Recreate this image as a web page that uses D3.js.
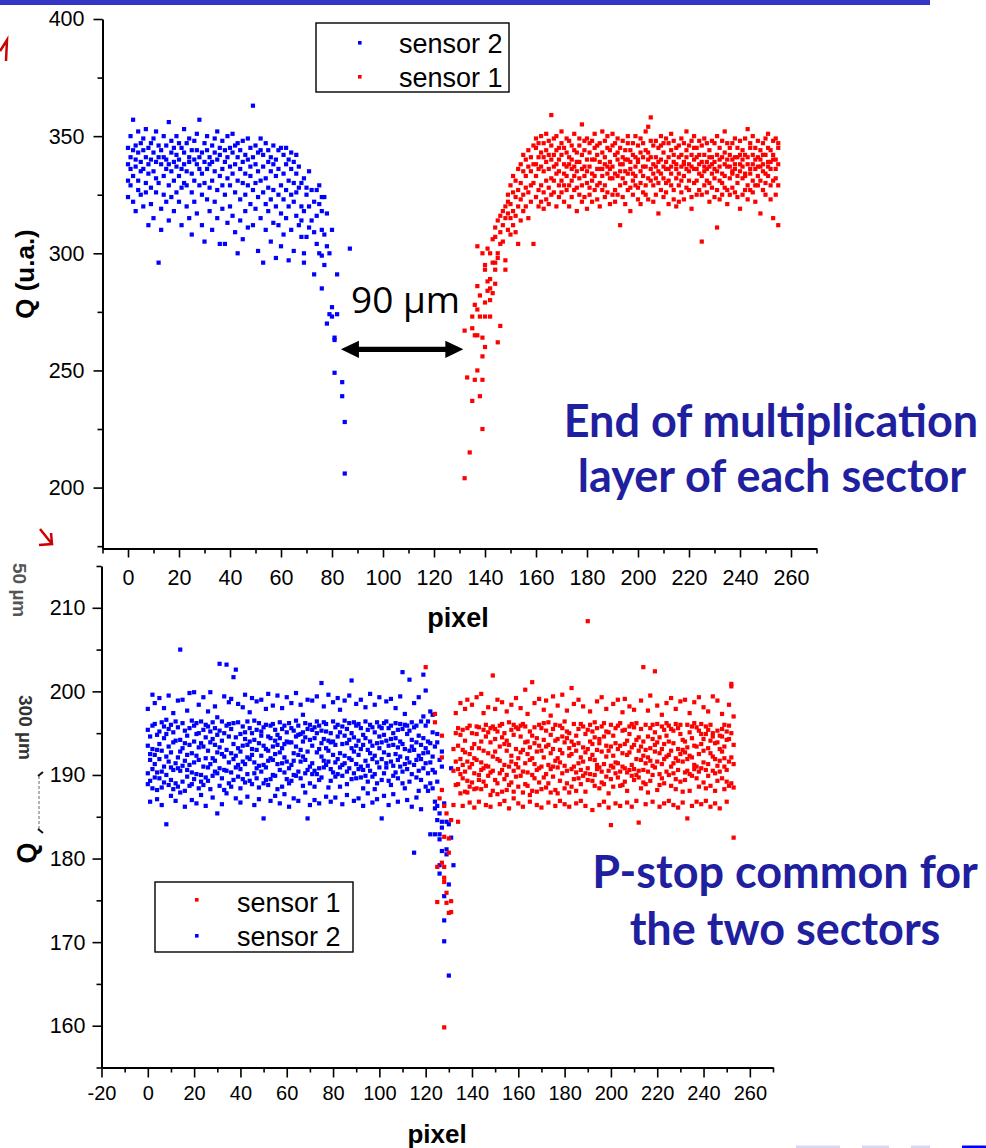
<!DOCTYPE html>
<html><head><meta charset="utf-8">
<script src="https://cdn.jsdelivr.net/npm/d3@7"></script>
<style>
html,body{margin:0;padding:0;background:#fff;}
svg{display:block;}
</style></head><body>
<svg id="fig" width="986" height="1148"></svg>
<script>
// ---------- Upper panel: charge vs pixel, one reading group per pixel ----------
const topSensor2Start = 0;
const topSensor2 = [
[324,338,345,331],[341,329,350,336],[357,333,322,344],[337,346,318,340],[352,331,343,327],
[339,347,325,335],[344,320,336,349],[330,341,353,326],[338,312,345,334],[347,328,340,321],
[335,343,315,349],[326,339,352,332],[296,341,330,346],[338,319,344,310],[350,333,325,341],
[340,346,322,336],[356,329,338,314],[343,335,348,324],[331,345,318,339],[337,326,342,350],
[322,340,347,333],[345,312,336,328],[353,338,330,343],[329,347,320,335],[341,315,339,349],
[334,344,326,308],[348,331,340,322],[338,351,317,344],[357,336,329,341],[325,343,334,312],
[339,305,347,330],[344,323,336,350],[318,338,341,328],[346,331,310,339],[335,349,322,343],
[327,340,352,315],[342,304,333,345],[336,348,319,329],[304,339,344,325],[350,332,313,341],
[329,345,337,320],[343,316,351,334],[338,326,346,309],[300,341,331,347],[336,323,344,314],
[348,330,339,306],[325,342,334,318],[340,311,349,329],[333,345,321,337],[363,327,341,312],
[338,319,346,330],[324,343,301,335],[344,331,315,349],[296,337,326,342],[332,347,310,321],
[339,318,344,328],[305,335,341,323],[346,327,313,338],[320,340,298,333],[336,312,344,325],
[329,345,317,303],[342,323,334,308],[315,338,327,345],[297,331,340,320],[336,310,325,343],
[322,339,301,330],[334,316,342,326],
[328,312,337],[330,320,314,307],[300,296,332,318],[328,307,325],[320,335,311],
[314,327],[309,291,322],[327,304,316],[321,300,329],[310,299,285,318,324],
[324,295,308],[303,270,317],[300,274],[310,277,273],[264,263,249],
[291,274],[],[245,239],[228,206],[],[302]
];

const topSensor1Start = 132;
const topSensor1 = [
[204,267],[247],[215],[237,268,273],[246,265,278],
[250,265,276,286,303],[239,273,282],[225,246,256,264,300],[260,273,279,293,295],[288,302,284],
[273,280,285,289,300],[283,296,306],[287,293,296,307,311],[262,298,300,314],[269,304,309,316],
[305,312,318],[293,297,315,320],[310,317,322,325],
[308,321,329,315],[318,312,326,333],[324,316,331,309],[304,327,320,336],[330,314,338,323],
[325,335,318,342],[333,320,340,328],[337,326,344,315],[329,341,322,335],[304,338,330,346],
[333,345,324,338,349],[327,336,347,320,341],[343,329,337,322,350],[335,341,326,347,319],[339,323,344,331,351],
[328,348,336,342,321],[359,332,340,325,346],[337,326,349,331,342],[344,334,320,338,350],[324,345,335,329,340],
[352,331,342,326,347],[338,322,345,334,329],[333,349,327,343,337],[341,329,338,320,348],[336,346,324,340,331],
[327,337,351,333,344],[318,343,335,328,339],[346,325,339,349,332],[355,336,329,342,322],[337,344,333,324,348],
[330,340,349,335,319],[343,328,337,347,325],[334,348,322,340,331],[340,333,345,327,351],[323,342,336,346,329],
[347,330,339,320,336],[336,352,327,343,333],[329,338,348,324,341],[345,334,326,337,350],[339,321,344,332,336],
[332,346,337,351,325],[342,327,334,347,322],[325,340,349,333,343],[312,338,329,345,335],[348,332,341,324,338],
[335,344,321,340,330],[340,327,347,334,350],[328,344,336,318,339],[347,334,325,342,331],[333,341,350,329,337],
[339,323,340,346,328],[343,335,330,349,321],[326,347,337,333,341],[337,329,344,325,352],[354,340,332,343,323],
[358,331,341,336,348],[334,346,322,338,329],[341,325,348,332,337],[330,339,335,345,317],[346,334,327,340,350],
[324,343,337,332,347],[339,330,349,326,336],[336,347,331,341,321],[329,337,344,351,334],[348,327,339,323,342],
[338,345,332,336,320],[322,334,341,346,329],[342,349,326,337,331],[333,339,347,323,338],[341,328,336,344,352],
[327,346,338,331,335],[337,324,342,348,319],[345,336,330,340,350],[331,341,325,336,345],[338,348,334,327,342],
[305,333,339,346,325],[342,337,329,349,335],[336,326,347,339,331],[330,344,337,322,341],[348,334,341,328,338],
[324,339,332,347,336],[311,342,335,327,350],[340,331,345,337,323],[334,348,325,341,330],[343,328,338,333,352],
[327,337,347,340,321],[337,345,332,325,342],[347,335,340,328,334],[326,341,349,336,338],[341,333,324,345,330],
[335,342,338,319,348],[332,325,344,337,340],[342,349,334,327,333],[353,338,329,341,323],[334,345,336,347,327],
[338,326,342,331,350],[345,336,322,340,329],[329,341,348,333,337],[337,331,340,344,317],[347,338,327,335,342],
[325,342,349,334,330],[339,333,337,345,351],[336,323,344,329,339],[342,348,331,340,315],[332,340,349,325,336],
[312,338,345,329,347]
];

// ---------- Lower panel ----------
const bottomSensor2Start = 0;
const bottomSensor2 = [
[190.2,193.5,188.9,195.4,197.9],[191.8,189.3,194.6,192.5,186.8],[199.6,190.7,193.1,195.9,188.4],[192.4,196.1,189.7,191.3,198.6],[194.8,190.3,188.2,193.0,187.1],
[189.6,195.2,191.9,193.7,199.2],[192.9,188.5,196.3,190.4,186.4],[191.0,194.4,189.1,195.8,198.0],[184.1,192.2,190.0,194.9,196.6],[193.4,188.8,195.5,191.6,199.5],
[190.9,196.0,192.7,189.4,187.5],[188.3,193.9,190.6,195.1,197.4],[194.1,191.4,189.0,196.4,186.9],[192.1,195.7,188.6,190.8,198.9],[205.0,190.5,194.2,192.8,187.9],
[189.2,193.2,196.2,191.1,199.0],[193.8,188.1,191.7,195.3,186.2],[190.6,194.7,189.8,192.4,197.7],[195.6,191.2,188.7,193.6,199.8],[188.9,192.6,196.5,190.3,187.0],
[199.9,191.5,189.5,194.0,195.9],[190.1,194.9,192.3,196.2,186.6],[193.3,188.4,195.0,191.8,198.4],[196.4,190.0,193.8,189.2,187.6],[191.0,195.4,188.8,193.4,199.3],
[194.5,189.7,192.0,196.0,186.3],[189.3,192.9,195.8,190.9,197.6],[195.2,191.3,188.3,193.9,199.9],[192.0,194.3,189.9,196.3,187.3],[190.4,193.6,195.6,191.7,198.2],
[185.4,192.7,194.8,190.2,196.9],[203.3,190.8,193.3,188.7,195.3],[192.5,196.4,189.6,194.1,186.5],[190.6,195.0,192.2,188.2,199.4],[203.2,193.0,190.5,195.9,187.8],
[191.5,194.6,196.1,189.0,198.7],[195.5,190.3,192.6,188.6,199.1],[201.7,193.7,189.4,191.9,196.2],[202.6,190.9,194.5,192.3,187.2],[193.2,196.3,189.8,191.2,198.5],
[190.7,194.9,192.8,188.4,186.7],[195.8,191.6,193.5,189.5,198.1],[189.1,195.1,191.3,194.3,199.6],[193.6,190.1,196.4,192.1,187.4],[191.9,195.6,189.3,194.0,197.5],
[195.0,192.4,188.9,193.1,199.2],[190.2,194.2,191.5,196.5,186.4],[193.0,189.6,195.4,190.8,198.8],[196.2,191.1,193.8,188.5,187.1],[192.3,195.2,190.4,194.7,199.0],
[184.8,193.5,191.2,195.7,189.0],[190.9,196.0,193.1,189.4,197.9],[194.6,191.7,188.8,192.9,199.7],[189.5,194.4,192.0,195.9,186.9],[193.4,190.0,196.1,191.8,198.3],
[195.4,192.5,189.9,194.1,187.5],[191.3,194.8,193.6,188.3,199.5],[194.4,190.6,196.3,192.7,186.6],[188.6,193.2,191.4,195.5,198.0],[192.1,195.9,190.3,193.7,187.7],
[195.1,189.5,194.0,191.6,199.3],[190.8,193.9,196.2,189.0,186.2],[193.9,191.2,189.3,195.6,198.6],[192.6,195.3,191.7,190.0,187.2],[189.9,193.4,196.5,194.6,199.8],
[195.9,190.4,192.4,194.8,186.9],[191.6,194.9,193.0,189.6,198.4],[194.0,188.7,195.1,192.2,197.2],[190.2,196.2,191.8,194.5,187.9],[184.8,192.8,195.5,190.6,199.0],
[194.2,191.0,189.0,196.0,186.4],[190.1,195.4,193.5,191.4,198.9],[195.7,190.5,194.4,188.6,187.0],[192.7,196.4,190.1,195.0,199.4],[190.8,193.1,195.9,189.4,186.6],
[201.0,192.2,189.7,195.3,193.8],[194.3,190.9,196.3,191.7,198.2],[191.2,195.2,193.2,196.1,187.4],[188.5,194.1,191.6,192.9,199.6],[195.0,190.7,193.9,189.3,186.8],
[192.4,196.4,190.3,194.0,198.7],[189.8,193.6,195.7,191.5,187.3],[196.0,191.9,194.6,190.1,199.2],[190.9,195.1,188.6,192.6,197.8],[193.7,189.9,195.8,191.2,186.5],
[191.4,194.7,192.3,196.5,198.9],[195.5,190.4,193.8,188.9,187.6],[192.0,196.2,190.8,194.2,199.5],[201.3,191.8,189.5,195.0,193.2],[190.2,194.5,192.8,196.3,186.9],
[193.5,189.6,195.9,191.3,198.5],[196.1,192.4,190.7,194.1,187.2],[189.7,195.6,193.1,191.0,199.0],[194.8,190.6,188.4,193.6,186.3],[191.7,196.4,194.4,189.9,198.1],
[193.0,191.1,195.4,189.2,187.8],[190.5,194.0,192.6,196.0,199.7],[195.7,189.8,191.9,193.5,186.7],[192.3,195.1,190.1,188.3,198.4],[189.0,193.8,196.3,191.5,187.1],
[194.6,190.9,193.2,195.8,199.3],[184.8,191.9,195.6,189.4,193.9],[196.2,192.7,190.2,194.8,187.5],[190.9,194.1,196.4,191.4,198.8],[193.5,189.3,192.4,195.6,186.4],
[195.9,191.6,194.3,188.8,199.1],[189.9,195.0,191.1,193.6,187.7],[192.5,190.3,196.2,194.4,198.0],[195.4,193.3,189.6,191.8,186.8],[191.0,196.1,194.0,192.2,199.4],
[202.3,190.4,193.7,195.5,189.0],[193.1,188.4,196.0,191.3,197.3],[190.7,194.9,192.0,195.9,187.0],[201.4,192.9,189.2,195.3,191.5],[194.2,190.1,196.3,193.4,186.2],
[180.7,193.0,191.2,195.7,198.6],[191.8,195.9,189.7,193.9,187.3],[199.3,192.3,194.7,190.5,188.1],[193.6,189.4,196.4,191.9,185.9],[202.0,190.8,194.4,192.6,197.0],
[195.9,191.4,188.6,193.2,200.1],[194.0,190.2,196.4,188.1,192.7],[182.9,191.5,193.8,189.0,197.6],[197.2,188.4,192.2,195.1,190.6],[186.8,186.0,182.9,190.3,193.4],
[194.9,193.9,186.3,184.6,189.2],[191.8,185.4,182.9,182.3,179.2,178.2],[192.8,191.0,184.4,183.7,180.9],[175.5,172.6,170.1,186.6],[184.4,181.1,180.5],
[176.9,166.0,184.1],[190.8,182.5],[179.2]
];

const bottomSensor1Start = 120;
const bottomSensor1 = [
[202.9],[],[],[],[197.3,196.3],
[179.0,174.8],[187.2],[194.7,192.1,188.2,179.5],[186.3,182.6,179.0,177.7,177.2,159.8],[185.4,175.9,174.7],
[182.4,180.7,173.5],[184.6,174.9,173.6],[190.5,186.4,193.1],[195.0,188.8,191.6,197.4],
[184.4,190.7,193.5,188.9,195.6],[191.9,187.8,194.8,190.1,198.6],[189.6,193.0,195.4,191.2,186.3],[194.1,190.4,188.0,192.7,197.9],[187.9,195.6,191.6,189.3,199.0],
[192.5,188.6,195.9,190.9,186.7],[195.0,191.3,189.1,193.2,198.4],[190.2,193.7,188.3,192.0,186.1],[188.4,194.9,191.8,195.8,199.3],[193.2,190.0,195.7,189.4,186.8],
[199.7,191.5,188.3,194.0,190.6],[190.8,195.4,192.9,189.2,197.4],[194.6,188.7,191.1,196.0,186.4],[191.0,195.1,189.9,192.6,198.1],[187.6,193.9,195.6,190.3,186.2],
[201.9,190.5,192.2,188.1,195.8],[192.8,195.5,189.4,194.3,197.9],[189.0,191.9,195.2,187.7,199.0],[195.9,190.2,193.4,191.7,186.5],[190.6,194.5,188.0,196.1,198.7],
[193.7,189.5,191.2,195.0,186.9],[188.2,192.9,194.1,190.0,197.6],[196.3,191.0,188.8,193.6,186.0],[191.6,195.4,192.3,189.1,198.4],[194.8,188.0,190.5,196.0,187.2],
[189.8,193.1,195.7,191.3,199.2],[192.0,190.9,195.5,188.6,186.6],[195.9,192.7,189.9,194.6,198.0],[190.4,196.1,193.0,187.9,186.2],[193.9,188.9,191.4,195.8,200.2],
[188.7,194.0,192.5,190.3,197.3],[195.2,191.8,187.6,193.3,186.8],[201.1,190.0,194.7,192.0,188.1],[191.3,195.7,189.6,193.8,198.6],[194.4,190.6,192.8,188.0,186.4],
[189.1,193.5,196.0,190.8,199.1],[192.9,188.3,191.0,195.6,186.1],[196.2,192.1,194.2,189.7,197.8],[190.1,195.3,188.5,193.4,198.9],[193.6,191.2,196.3,189.0,186.7],
[187.9,194.8,190.7,192.6,197.1],[195.5,189.8,193.1,191.0,199.4],[191.7,196.0,188.2,194.1,186.3],[194.3,190.9,192.0,187.8,198.3],[189.3,193.0,195.9,191.5,186.9],
[192.6,195.6,190.2,194.6,199.6],[196.4,191.1,193.9,188.4,186.5],[190.5,194.4,189.0,195.2,197.7],[193.2,187.9,195.0,192.3,186.2],[200.4,192.5,190.7,194.0,188.6],
[191.0,196.1,193.6,189.5,198.5],[194.7,190.3,188.1,192.9,186.6],[189.6,193.8,191.4,195.5,199.0],[192.1,188.9,196.1,190.6,186.9],[195.8,191.6,193.3,189.9,198.2],
[190.2,194.9,192.7,188.0,186.3],[208.4,193.1,189.4,195.4,190.8],[191.9,196.0,194.0,190.1,197.6],[185.8,192.4,195.2,189.3,193.7],[194.5,190.0,191.8,196.3,188.7],
[190.7,195.6,193.0,191.2,198.8],[193.8,188.4,190.9,194.3,186.4],[189.1,192.8,195.8,190.4,199.3],[196.2,191.3,194.6,188.9,186.8],[192.2,195.2,189.8,193.5,197.9],
[195.1,190.5,192.9,187.8,186.1],[184.0,193.4,191.1,196.0,189.5],[190.9,194.7,188.6,192.3,198.5],[195.6,191.5,193.8,190.2,186.6],[191.4,189.7,195.9,193.1,199.0],
[193.5,196.2,190.4,188.7,186.3],[188.8,192.6,191.0,195.3,197.5],[195.4,190.8,193.7,189.2,199.1],[190.3,194.1,188.1,192.4,186.7],[192.7,195.8,190.6,194.9,198.2],
[196.1,191.2,193.3,189.9,186.2],[189.4,193.6,195.7,190.7,197.8],[194.2,190.0,191.9,196.2,186.9],[184.3,192.9,189.7,194.5,190.5],[191.8,195.5,193.4,188.4,198.9],
[202.9,190.6,192.3,194.0,189.1],[193.0,188.9,196.0,191.4,186.5],[190.4,194.6,192.1,187.9,197.7],[195.6,191.7,189.3,193.2,199.5],[191.1,196.0,194.3,190.0,186.8],
[202.4,192.8,190.9,195.1,193.6],[188.2,193.9,191.6,196.1,198.3],[194.5,190.1,188.8,192.6,186.2],[191.3,195.8,193.1,189.6,197.2],[193.7,189.0,195.4,191.9,186.6],
[196.2,192.2,190.4,194.7,198.6],[190.0,194.0,195.9,192.4,186.9],[192.9,188.7,191.0,195.5,199.2],[195.3,191.4,193.8,190.2,186.4],[189.5,196.1,192.0,188.3,197.9],
[193.1,190.6,195.6,191.7,186.1],[196.0,192.5,189.2,194.9,198.8],[191.6,194.2,188.0,193.0,186.7],[194.0,190.3,192.7,189.4,199.0],[184.8,191.9,196.0,193.3,190.5],
[192.3,195.1,190.1,188.1,197.4],[195.8,189.9,194.4,192.1,186.3],[190.7,193.5,191.2,196.2,198.7],[193.4,191.0,195.7,189.6,186.8],[188.6,195.3,192.5,190.4,199.3],
[196.1,190.8,193.7,194.9,186.5],[191.5,194.3,189.1,192.9,198.1],[194.9,188.4,195.8,190.6,186.9],[189.9,193.2,191.3,195.4,197.6],[192.6,196.0,194.1,188.7,186.2],
[195.0,190.5,192.2,194.6,199.4],[190.2,193.8,188.1,191.9,186.6],[193.9,191.1,195.3,189.3,198.9],[191.7,194.7,190.4,193.1,186.0],[195.5,189.6,192.8,194.6,197.3],
[192.0,193.4,196.0,191.0,188.3],[189.2,195.2,190.6,194.2,186.8],[194.3,191.6,188.7,195.9,198.4],[200.9,200.6,192.1,195.0,189.0],[182.5,191.3,193.6,188.5,197.0]
];

// ---------- Axis ticks ----------
const topXMajor = d3.range(0, 261, 20);
const topXMinor = d3.range(-10, 271, 20);
const topYMajor = [200, 250, 300, 350, 400];
const topYMinor = [175, 225, 275, 325, 375];
const botXMajor = d3.range(-20, 261, 20);
const botXMinor = d3.range(-10, 271, 20);
const botYMajor = [160, 170, 180, 190, 200, 210];
const botYMinor = [155, 165, 175, 185, 195, 205, 215];

const legendTop = [{name: "sensor 2", color: "#0000ff"}, {name: "sensor 1", color: "#ff0000"}];
const legendBottom = [{name: "sensor 1", color: "#ff0000"}, {name: "sensor 2", color: "#0000ff"}];

// ---------- Drawing ----------
const svg = d3.select("#fig");
const sans = "'Liberation Sans', Arial, sans-serif";
const BLUE = "#0000ff", RED = "#ff0000";

function toPoints(groups, start) {
  const pts = [];
  groups.forEach((vals, i) => vals.forEach(v => pts.push([start + i, v])));
  return pts;
}

function drawAxis(g, scale, side, majors, minors, majLen, minLen, pad, fs) {
  const gen = side === "left" ? d3.axisLeft : d3.axisBottom;
  const a1 = g.append("g").call(gen(scale).tickValues(minors).tickSize(minLen).tickSizeOuter(0).tickFormat(""));
  a1.select(".domain").remove();
  const a2 = g.append("g").call(gen(scale).tickValues(majors).tickSize(majLen).tickSizeOuter(0)
    .tickPadding(pad).tickFormat(d => String(d)));
  g.selectAll(".domain").attr("stroke", "#000").attr("stroke-width", 2);
  g.selectAll(".tick line").attr("stroke", "#000").attr("stroke-width", 1.6);
  a2.selectAll("text").attr("font-family", sans).attr("font-size", fs).attr("fill", "#000");
}

function drawPoints(g, pts, x, y, color, s) {
  g.append("g").selectAll("rect").data(pts).join("rect")
    .attr("x", d => x(d[0]) - s / 2).attr("y", d => y(d[1]) - s / 2)
    .attr("width", s).attr("height", s).attr("fill", color);
}

// header band
svg.append("rect").attr("x", 0).attr("y", 0).attr("width", 930).attr("height", 5).attr("fill", "#3636c6");

// upper panel
const xTop = d3.scaleLinear().domain([-10, 270]).range([102.5, 816.5]);
const yTop = d3.scaleLinear().domain([174, 400]).range([548.5, 19]);
const gTop = svg.append("g");
drawPoints(gTop, toPoints(topSensor2, topSensor2Start), xTop, yTop, BLUE, 4.2);
drawPoints(gTop, toPoints(topSensor1, topSensor1Start), xTop, yTop, RED, 4.2);
drawAxis(gTop.append("g").attr("transform", `translate(0,${yTop.range()[0]})`), xTop, "bottom", topXMajor, topXMinor, 9, 5, 12, 21.5);
drawAxis(gTop.append("g").attr("transform", `translate(${xTop.range()[0]},0)`), yTop, "left", topYMajor, topYMinor, 9, 5, 9, 21.5);

gTop.append("text").attr("transform", "translate(34,274) rotate(-90)").attr("text-anchor", "middle")
  .attr("font-family", sans).attr("font-weight", "bold").attr("font-size", 26).text("Q (u.a.)");
gTop.append("text").attr("x", 458).attr("y", 627).attr("text-anchor", "middle")
  .attr("font-family", sans).attr("font-weight", "bold").attr("font-size", 27).text("pixel");

// legend (upper)
const lgT = gTop.append("g");
lgT.append("rect").attr("x", 316).attr("y", 23).attr("width", 193).attr("height", 69)
  .attr("fill", "#fff").attr("stroke", "#000").attr("stroke-width", 1.4);
legendTop.forEach((d, i) => {
  lgT.append("rect").attr("x", 358).attr("y", 41 + i * 34).attr("width", 3.6).attr("height", 3.6).attr("fill", d.color);
  lgT.append("text").attr("x", 399).attr("y", 53 + i * 34).attr("font-family", sans).attr("font-size", 27).text(d.name);
});

// gap annotation between sectors
const gapFrom = 83.5, gapTo = 131.5, gapQ = 259;
const ax0 = xTop(gapFrom), ax1 = xTop(gapTo), ay = yTop(gapQ);
gTop.append("path").attr("fill", "#000").attr("d",
  `M${ax0},${ay} L${ax0 + 18},${ay - 8.7} L${ax0 + 18},${ay - 2.6} L${ax1 - 18},${ay - 2.6} L${ax1 - 18},${ay - 8.7} ` +
  `L${ax1},${ay} L${ax1 - 18},${ay + 8.7} L${ax1 - 18},${ay + 2.6} L${ax0 + 18},${ay + 2.6} L${ax0 + 18},${ay + 8.7} Z`);
gTop.append("text").attr("x", 351).attr("y", 313).attr("font-family", "'Open Sans', sans-serif")
  .attr("font-size", 37).attr("fill", "#000").text("90 µm");

// lower panel
const xBot = d3.scaleLinear().domain([-20, 270]).range([101.5, 773]);
const yBot = d3.scaleLinear().domain([155, 215]).range([1067.5, 566]);
const gBot = svg.append("g");
drawPoints(gBot, toPoints(bottomSensor2, bottomSensor2Start), xBot, yBot, BLUE, 4.2);
drawPoints(gBot, toPoints(bottomSensor1, bottomSensor1Start), xBot, yBot, RED, 4.2);
drawAxis(gBot.append("g").attr("transform", `translate(0,${yBot.range()[0]})`), xBot, "bottom", botXMajor, botXMinor, 10, 5, 8, 20);
drawAxis(gBot.append("g").attr("transform", `translate(${xBot.range()[0]},0)`), yBot, "left", botYMajor, botYMinor, 9, 5, 7, 21.5);

gBot.append("text").attr("transform", "translate(36,853) rotate(-90)").attr("text-anchor", "middle")
  .attr("font-family", sans).attr("font-weight", "bold").attr("font-size", 27).text("Q");
gBot.append("text").attr("x", 437).attr("y", 1143).attr("text-anchor", "middle")
  .attr("font-family", sans).attr("font-weight", "bold").attr("font-size", 26).text("pixel");

const lgB = gBot.append("g");
lgB.append("rect").attr("x", 155).attr("y", 882).attr("width", 198).attr("height", 70)
  .attr("fill", "#fff").attr("stroke", "#000").attr("stroke-width", 1.4);
legendBottom.forEach((d, i) => {
  lgB.append("rect").attr("x", 195).attr("y", 898 + i * 36).attr("width", 3.6).attr("height", 3.6).attr("fill", d.color);
  lgB.append("text").attr("x", 237).attr("y", 912 + i * 34).attr("font-family", sans).attr("font-size", 27).text(d.name);
});

// captions
const capFont = "Lato, 'Open Sans', sans-serif", capColor = "#1f1fa0";
[["End of multiplication", 771, 437], ["layer of each sector", 772, 492],
 ["P-stop common for", 785, 888], ["the two sectors", 785, 945]].forEach(([t, x, y]) => {
  svg.append("text").attr("x", x).attr("y", y).attr("text-anchor", "middle")
    .attr("font-family", capFont).attr("font-weight", "bold").attr("font-size", 45)
    .attr("fill", capColor).text(t);
});

// side notes along the left margin
svg.append("path").attr("d", "M0,51 L7,40 L6,61").attr("fill", "none").attr("stroke", "#cc0000").attr("stroke-width", 2.5);
svg.append("path").attr("d", "M40,529 L52,544 M39,545 L52,544 L51,533").attr("fill", "none").attr("stroke", "#cc0000").attr("stroke-width", 2.5);
svg.append("text").attr("transform", "translate(13,563) rotate(90)").attr("font-family", sans)
  .attr("font-weight", "bold").attr("font-size", 19).attr("fill", "#555").text("50 µm");
svg.append("text").attr("transform", "translate(19,695) rotate(90)").attr("font-family", sans)
  .attr("font-weight", "bold").attr("font-size", 19).attr("fill", "#333").text("300 µm");
svg.append("line").attr("x1", 39).attr("x2", 39).attr("y1", 776).attr("y2", 830)
  .attr("stroke", "#666").attr("stroke-width", 1).attr("stroke-dasharray", "3,2");
svg.append("path").attr("d", "M38,776 L43,772 M38,829 L43,833").attr("stroke", "#111").attr("stroke-width", 2);

// footer fragments
[[796, 44, "#d8d8f5"], [862, 27, "#d8d8f5"], [911, 19, "#d8d8f5"], [962, 24, "#0000ff"]].forEach(([x, w, c]) => {
  svg.append("rect").attr("x", x).attr("y", 1145.5).attr("width", w).attr("height", 3).attr("fill", c);
});
</script></body></html>
